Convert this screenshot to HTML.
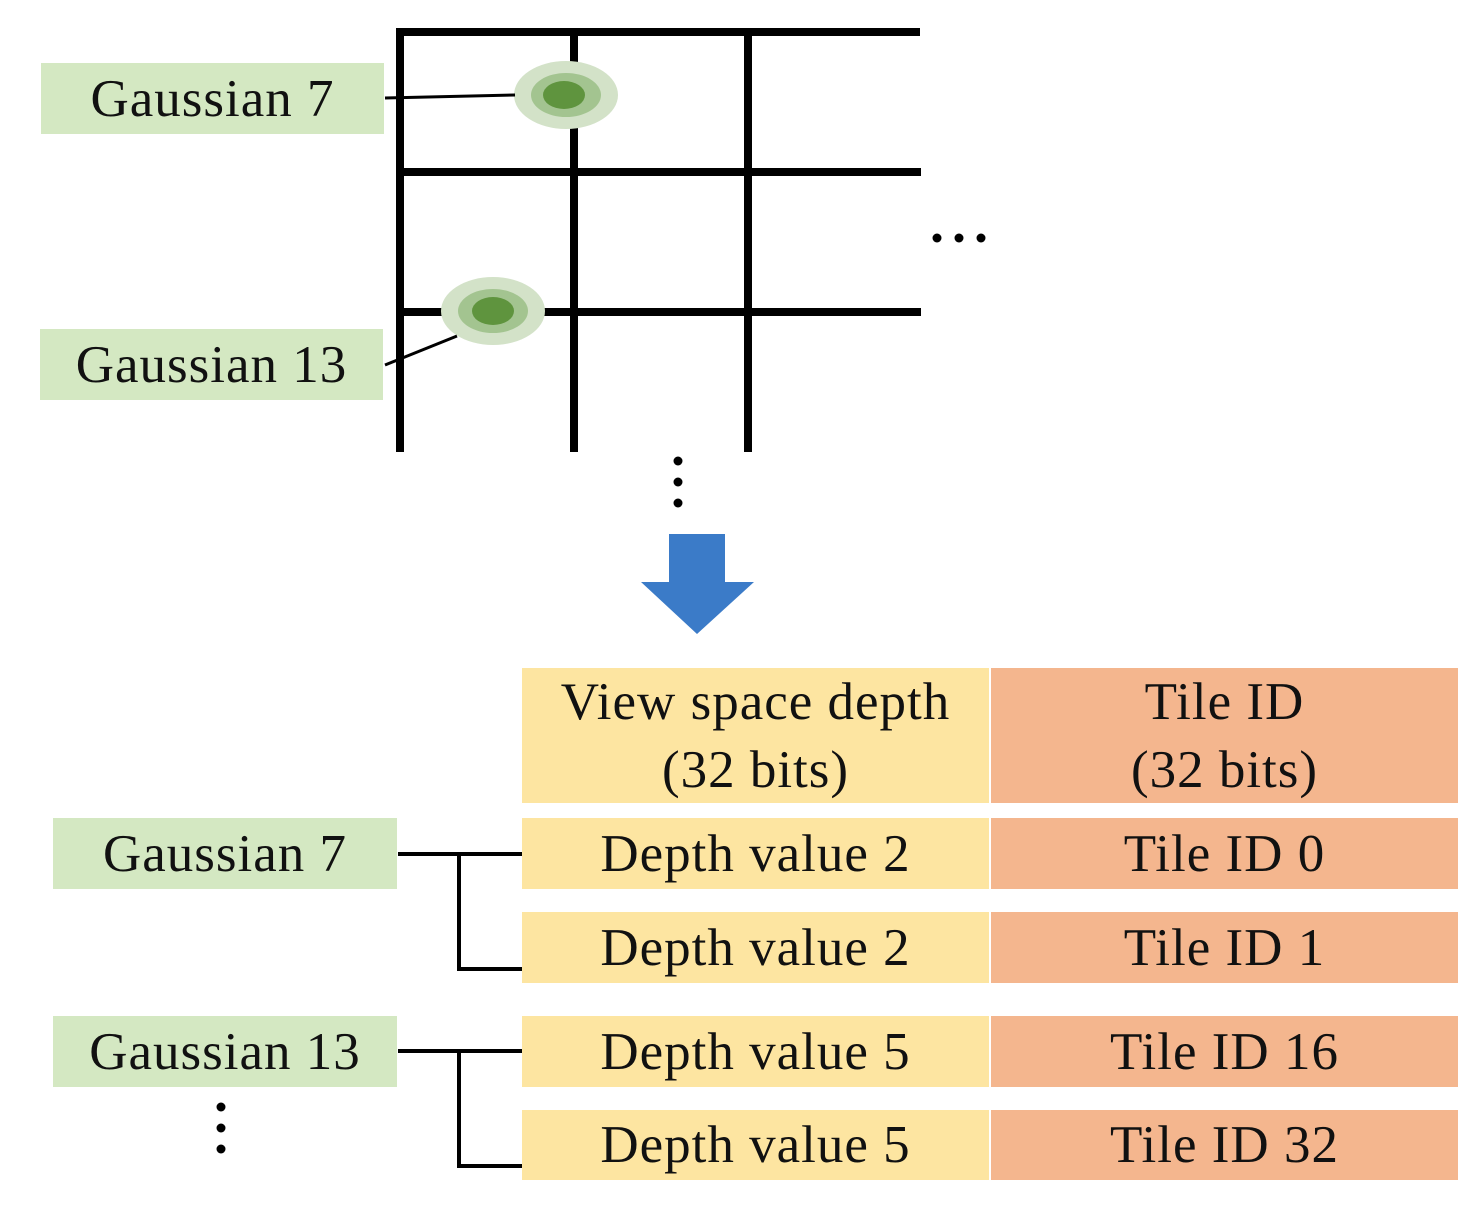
<!DOCTYPE html>
<html><head><meta charset="utf-8"><style>
body{margin:0;background:#fff;width:1474px;height:1212px;overflow:hidden;position:relative;font-family:"Liberation Serif",serif;}
.b{position:absolute;display:flex;align-items:center;justify-content:center;color:#111;font-size:53px;letter-spacing:1px;text-align:center;line-height:68px;}
.g{background:#d4e8c2;}
.y{background:#fde5a1;}
.o{background:#f4b68e;}
</style></head><body>
<svg width="1474" height="1212" style="position:absolute;left:0;top:0">
<g stroke="#000" stroke-width="8">
<line x1="400" y1="28" x2="400" y2="452"/><line x1="574" y1="28" x2="574" y2="452"/><line x1="748" y1="28" x2="748" y2="452"/>
<line x1="396" y1="32" x2="920" y2="32"/><line x1="396" y1="172" x2="921" y2="172"/><line x1="396" y1="312" x2="921" y2="312"/>
</g>
<g>
<ellipse cx="566" cy="95" rx="52" ry="34" fill="#d3e2c8"/><ellipse cx="566" cy="95" rx="35" ry="22" fill="#a3c490"/><ellipse cx="564" cy="95" rx="21" ry="14" fill="#5f943e"/>
</g>
<g>
<ellipse cx="493" cy="311" rx="52" ry="34" fill="#d3e2c8"/><ellipse cx="493" cy="311" rx="35" ry="22" fill="#a3c490"/><ellipse cx="493" cy="311" rx="21" ry="14" fill="#5f943e"/>
</g>
<line x1="385" y1="98" x2="515" y2="95" stroke="#000" stroke-width="3"/>
<line x1="385" y1="365" x2="457" y2="336" stroke="#000" stroke-width="3"/>
<g fill="#000">
<circle cx="937" cy="238" r="4.5"/><circle cx="959" cy="238" r="4.5"/><circle cx="981" cy="238" r="4.5"/>
<circle cx="678" cy="461" r="4.5"/><circle cx="678" cy="482" r="4.5"/><circle cx="678" cy="503" r="4.5"/>
<circle cx="221" cy="1107" r="4.5"/><circle cx="221" cy="1128" r="4.5"/><circle cx="221" cy="1149" r="4.5"/>
</g>
<polygon points="669,534 725,534 725,582 754,582 697,634 641,582 669,582" fill="#3b7bc8"/>
<g stroke="#000" stroke-width="4" fill="none">
<polyline points="398,854 522,854"/><polyline points="459,854 459,969 522,969"/>
<polyline points="398,1051 522,1051"/><polyline points="459,1051 459,1166 522,1166"/>
</g>
</svg>
<div class="b g" style="left:41px;top:63px;width:343px;height:71px;">Gaussian 7</div>
<div class="b g" style="left:40px;top:329px;width:343px;height:71px;">Gaussian 13</div>
<div class="b y" style="left:522px;top:668px;width:467px;height:135px;">View space depth<br>(32 bits)</div>
<div class="b o" style="left:991px;top:668px;width:467px;height:135px;">Tile ID<br>(32 bits)</div>
<div class="b g" style="left:53px;top:818px;width:344px;height:71px;">Gaussian 7</div>
<div class="b g" style="left:53px;top:1016px;width:344px;height:71px;">Gaussian 13</div>
<div class="b y" style="left:522px;top:818px;width:467px;height:71px;">Depth value 2</div>
<div class="b o" style="left:991px;top:818px;width:467px;height:71px;">Tile ID 0</div>
<div class="b y" style="left:522px;top:912px;width:467px;height:71px;">Depth value 2</div>
<div class="b o" style="left:991px;top:912px;width:467px;height:71px;">Tile ID 1</div>
<div class="b y" style="left:522px;top:1016px;width:467px;height:71px;">Depth value 5</div>
<div class="b o" style="left:991px;top:1016px;width:467px;height:71px;">Tile ID 16</div>
<div class="b y" style="left:522px;top:1110px;width:467px;height:70px;">Depth value 5</div>
<div class="b o" style="left:991px;top:1110px;width:467px;height:70px;">Tile ID 32</div>
</body></html>
